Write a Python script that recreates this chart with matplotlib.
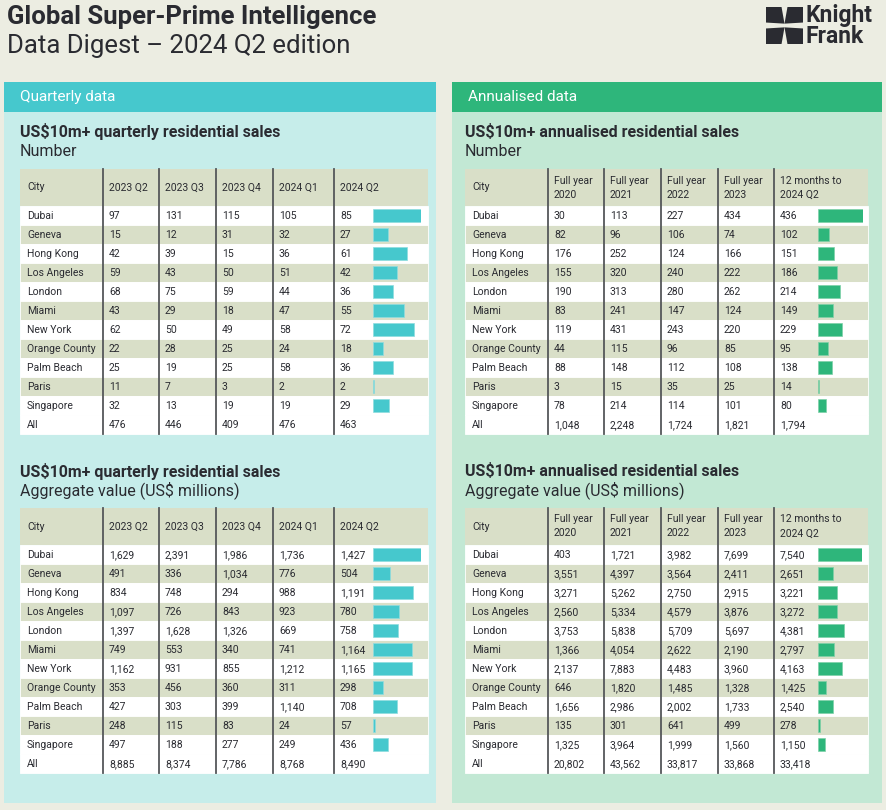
import matplotlib.pyplot as plt
from matplotlib.patches import Rectangle, Polygon

plt.rcParams['font.family'] = ['Roboto', 'DejaVu Sans']

cities = ['Dubai', 'Geneva', 'Hong Kong', 'Los Angeles', 'London', 'Miami',
          'New York', 'Orange County', 'Palm Beach', 'Paris', 'Singapore']

# quarterly - number of sales
q_heads = ['2023 Q2', '2023 Q3', '2023 Q4', '2024 Q1', '2024 Q2']
qn_23q2 = [97, 15, 42, 59, 68, 43, 62, 22, 25, 11, 32]
qn_23q3 = [131, 12, 39, 43, 75, 29, 50, 28, 19, 7, 13]
qn_23q4 = [115, 31, 15, 50, 59, 18, 49, 25, 25, 3, 19]
qn_24q1 = [105, 32, 36, 51, 44, 47, 58, 24, 58, 2, 19]
qn_24q2 = [85, 27, 61, 42, 36, 55, 72, 18, 36, 2, 29]
qn_all = [476, 446, 409, 476, 463]

# quarterly - aggregate value
qv_23q2 = [1629, 491, 834, 1097, 1397, 749, 1162, 353, 427, 248, 497]
qv_23q3 = [2391, 336, 748, 726, 1628, 553, 931, 456, 303, 115, 188]
qv_23q4 = [1986, 1034, 294, 843, 1326, 340, 855, 360, 399, 83, 277]
qv_24q1 = [1736, 776, 988, 923, 669, 741, 1212, 311, 1140, 24, 249]
qv_24q2 = [1427, 504, 1191, 780, 758, 1164, 1165, 298, 708, 57, 436]
qv_all = [8885, 8374, 7786, 8768, 8490]

# annualised - number of sales
a_heads = ['Full year\n2020', 'Full year\n2021', 'Full year\n2022',
           'Full year\n2023', '12 months to\n2024 Q2']
an_2020 = [30, 82, 176, 155, 190, 83, 119, 44, 88, 3, 78]
an_2021 = [113, 96, 252, 320, 313, 241, 431, 115, 148, 15, 214]
an_2022 = [227, 106, 124, 240, 280, 147, 243, 96, 112, 35, 114]
an_2023 = [434, 74, 166, 222, 262, 124, 220, 85, 108, 25, 101]
an_12m = [436, 102, 151, 186, 214, 149, 229, 95, 138, 14, 80]
an_all = [1048, 2248, 1724, 1821, 1794]

# annualised - aggregate value
av_2020 = [403, 3551, 3271, 2560, 3753, 1366, 2137, 646, 1656, 135, 1325]
av_2021 = [1721, 4397, 5262, 5334, 5838, 4054, 7883, 1820, 2986, 301, 3964]
av_2022 = [3982, 3564, 2750, 4579, 5709, 2622, 4483, 1485, 2002, 641, 1999]
av_2023 = [7699, 2411, 2915, 3876, 5697, 2190, 3960, 1328, 1733, 499, 1560]
av_12m = [7540, 2651, 3221, 3272, 4381, 2797, 4163, 1425, 2540, 278, 1150]
av_all = [20802, 43562, 33817, 33868, 33418]

W, H = 887, 810
bg = '#ECEDE2'
dark = '#2A2B31'
beige = '#D9DFC8'
teal, teal_bg = '#46C8CD', '#C6EDEA'
green, green_bg = '#2EB67B', '#C2E8D4'

fig = plt.figure(figsize=(W / 100, H / 100), dpi=100)
fig.patch.set_facecolor(bg)
ax = fig.add_axes([0, 0, 1, 1])
ax.set_xlim(0, W)
ax.set_ylim(H, 0)
ax.axis('off')

# title
ax.text(7, 17, 'Global Super-Prime Intelligence', fontsize=18.5, fontweight='bold',
        color=dark, va='center', ha='left')
ax.text(7, 46, 'Data Digest \u2013 2024 Q2 edition', fontsize=18.5, fontweight='normal',
        color=dark, va='center', ha='left')

# logo
lx, ly, ls = 766, 7, 37
pieces = [
    [(0, 0), (0.42, 0), (0.5, 0.45), (0, 0.42)],
    [(1, 0), (0.58, 0), (0.5, 0.45), (1, 0.42)],
    [(0, 1), (0.42, 1), (0.5, 0.55), (0, 0.58)],
    [(1, 1), (0.58, 1), (0.5, 0.55), (1, 0.58)],
]
for p in pieces:
    ax.add_patch(Polygon([(lx + a * ls, ly + b * ls) for a, b in p], closed=True,
                         facecolor=dark, edgecolor='none'))
ax.text(806, 26, 'Knight\nFrank', fontsize=16.5, fontweight='bold', color=dark,
        va='center', linespacing=0.92,
        family=['Liberation Sans Narrow', 'Roboto', 'DejaVu Sans'])

# panels
for px, pw, hc, bc, label in [(4, 432, teal, teal_bg, 'Quarterly data'),
                              (452, 430, green, green_bg, 'Annualised data')]:
    ax.add_patch(Rectangle((px, 82), pw, 30, facecolor=hc, edgecolor='none'))
    ax.add_patch(Rectangle((px, 112), pw, 691, facecolor=bc, edgecolor='none'))
    ax.text(px + 16, 97, label, fontsize=11, color='white', va='center', ha='left')


def fmt(v):
    return f'{v:,}'


def draw_table(x0, y0, width, seps, heads, cols, totals, bar_col, edge_col,
               title, sub, bar_len):
    ax.text(x0, y0 - 37, title, fontsize=11.5, fontweight='bold', color=dark, va='center')
    ax.text(x0, y0 - 18, sub, fontsize=11.5, color=dark, va='center')
    head_h, row_h = 37, 19
    ax.add_patch(Rectangle((x0, y0), width, head_h, facecolor=beige, edgecolor='none'))
    for i in range(12):
        ry = y0 + head_h + i * row_h
        c = beige if i % 2 == 1 and i < 11 else 'white'
        ax.add_patch(Rectangle((x0, ry), width, row_h, facecolor=c, edgecolor='white',
                               lw=0.6))
    bottom = y0 + head_h + 12 * row_h
    ax.text(x0 + 7, y0 + head_h / 2, 'City', fontsize=7.5, color=dark, va='center')
    for s, h in zip(seps, heads):
        ax.text(x0 + s + 6, y0 + head_h / 2, h, fontsize=7.5, color=dark, va='center',
                linespacing=1.5)
        ax.plot([x0 + s, x0 + s], [y0, bottom], color='#55575A', lw=1.3)
    for i, city in enumerate(cities + ['All']):
        cy = y0 + head_h + i * row_h + row_h / 2 + 0.5
        ax.text(x0 + 7, cy, city, fontsize=7.5, color=dark, va='center')
        for j, s in enumerate(seps):
            v = cols[j][i] if i < 11 else totals[j]
            ax.text(x0 + s + 6, cy, fmt(v), fontsize=7.5, color=dark, va='center')
    # bars for latest period
    bx = x0 + 353
    bax = fig.add_axes([bx / W, 1 - (y0 + head_h + 11 * row_h) / H,
                        bar_len / W, 11 * row_h / H])
    bax.barh(range(11), cols[-1], height=0.68, color=bar_col,
             edgecolor=edge_col, linewidth=0.5)
    bax.set_xlim(0, max(cols[-1]))
    bax.set_ylim(10.5, -0.5)
    bax.axis('off')


draw_table(20, 169, 408, [83, 139, 196, 253, 314], q_heads,
           [qn_23q2, qn_23q3, qn_23q4, qn_24q1, qn_24q2], qn_all, teal, '#8FDCDF',
           'US$10m+ quarterly residential sales', 'Number', 48)
draw_table(20, 508, 408, [83, 139, 196, 253, 314], q_heads,
           [qv_23q2, qv_23q3, qv_23q4, qv_24q1, qv_24q2], qv_all, teal, '#8FDCDF',
           'US$10m+ quarterly residential sales', 'Aggregate value (US$ millions)', 48)
draw_table(465, 169, 403, [83, 139, 196, 253, 309], a_heads,
           [an_2020, an_2021, an_2022, an_2023, an_12m], an_all, green, '#7FD0A8',
           'US$10m+ annualised residential sales', 'Number', 45)
draw_table(465, 508, 403, [83, 139, 196, 253, 309], a_heads,
           [av_2020, av_2021, av_2022, av_2023, av_12m], av_all, green, '#7FD0A8',
           'US$10m+ annualised residential sales', 'Aggregate value (US$ millions)', 44)

fig.savefig('out.png', dpi=100, facecolor=bg)
